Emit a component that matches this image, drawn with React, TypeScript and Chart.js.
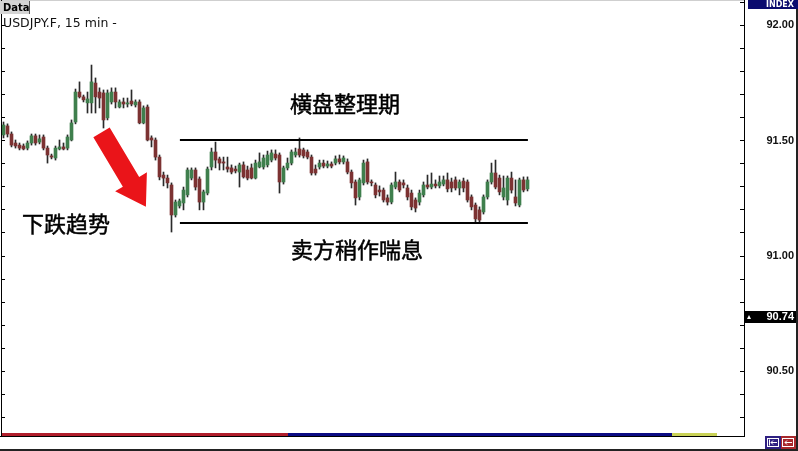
import React, { useRef, useEffect } from 'react';
import { Chart, registerables } from 'chart.js';

Chart.register(...registerables);

// USDJPY.F 15 min candles
const openPrices = [
  91.523, 91.562, 91.527, 91.488, 91.479, 91.475, 91.466, 91.488, 91.519, 91.492,
  91.514, 91.466, 91.432, 91.423, 91.462, 91.471, 91.466, 91.501, 91.579, 91.709,
  91.688, 91.662, 91.662, 91.748, 91.709, 91.705, 91.597, 91.666, 91.709, 91.644,
  91.666, 91.657, 91.670, 91.653, 91.666, 91.575, 91.644, 91.510, 91.501, 91.427,
  91.349, 91.336, 91.306, 91.176, 91.215, 91.228, 91.263, 91.336, 91.371, 91.332,
  91.232, 91.271, 91.384, 91.449, 91.419, 91.406, 91.384, 91.380, 91.375, 91.362,
  91.393, 91.371, 91.380, 91.336, 91.384, 91.384, 91.393, 91.414, 91.440, 91.436,
  91.319, 91.380, 91.401, 91.436, 91.462, 91.458, 91.449, 91.427, 91.375, 91.384,
  91.401, 91.388, 91.397, 91.401, 91.419, 91.406, 91.406, 91.362, 91.319, 91.254,
  91.315, 91.406, 91.319, 91.306, 91.284, 91.284, 91.250, 91.232, 91.297, 91.319,
  91.315, 91.293, 91.271, 91.241, 91.232, 91.263, 91.306, 91.297, 91.310, 91.302,
  91.310, 91.328, 91.319, 91.328, 91.293, 91.323, 91.319, 91.254, 91.219, 91.198,
  91.189, 91.254, 91.319, 91.358, 91.336, 91.254, 91.241, 91.336, 91.254, 91.219,
  91.328, 91.289,
];
const highPrices = [
  91.579, 91.571, 91.536, 91.501, 91.488, 91.484, 91.497, 91.527, 91.527, 91.523,
  91.523, 91.475, 91.440, 91.475, 91.501, 91.488, 91.523, 91.588, 91.722, 91.753,
  91.696, 91.709, 91.826, 91.770, 91.727, 91.718, 91.718, 91.727, 91.727, 91.675,
  91.683, 91.683, 91.718, 91.675, 91.675, 91.649, 91.653, 91.519, 91.510, 91.436,
  91.362, 91.349, 91.315, 91.241, 91.245, 91.297, 91.380, 91.380, 91.380, 91.341,
  91.284, 91.384, 91.466, 91.492, 91.427, 91.427, 91.427, 91.393, 91.388, 91.401,
  91.406, 91.388, 91.397, 91.414, 91.445, 91.436, 91.453, 91.458, 91.458, 91.445,
  91.388, 91.423, 91.458, 91.466, 91.510, 91.466, 91.458, 91.436, 91.393, 91.414,
  91.414, 91.410, 91.406, 91.432, 91.436, 91.432, 91.419, 91.371, 91.328, 91.336,
  91.414, 91.419, 91.328, 91.315, 91.302, 91.293, 91.263, 91.315, 91.362, 91.328,
  91.328, 91.306, 91.284, 91.250, 91.284, 91.319, 91.349, 91.358, 91.328, 91.345,
  91.345, 91.358, 91.336, 91.341, 91.328, 91.336, 91.328, 91.263, 91.228, 91.211,
  91.263, 91.328, 91.401, 91.414, 91.349, 91.345, 91.345, 91.362, 91.328, 91.336,
  91.341, 91.341,
];
const lowPrices = [
  91.510, 91.514, 91.471, 91.466, 91.458, 91.458, 91.458, 91.479, 91.479, 91.484,
  91.458, 91.401, 91.419, 91.414, 91.458, 91.458, 91.458, 91.497, 91.571, 91.683,
  91.666, 91.618, 91.618, 91.618, 91.640, 91.553, 91.588, 91.657, 91.640, 91.640,
  91.640, 91.644, 91.649, 91.644, 91.571, 91.571, 91.497, 91.471, 91.414, 91.328,
  91.302, 91.293, 91.102, 91.167, 91.206, 91.198, 91.254, 91.328, 91.284, 91.198,
  91.198, 91.263, 91.371, 91.380, 91.371, 91.371, 91.362, 91.354, 91.358, 91.297,
  91.336, 91.328, 91.332, 91.332, 91.380, 91.375, 91.384, 91.406, 91.414, 91.271,
  91.310, 91.371, 91.393, 91.427, 91.427, 91.423, 91.419, 91.349, 91.349, 91.375,
  91.380, 91.380, 91.380, 91.393, 91.397, 91.397, 91.354, 91.293, 91.219, 91.241,
  91.306, 91.310, 91.302, 91.250, 91.258, 91.232, 91.219, 91.224, 91.289, 91.276,
  91.293, 91.241, 91.198, 91.189, 91.219, 91.254, 91.289, 91.289, 91.293, 91.293,
  91.302, 91.276, 91.276, 91.284, 91.263, 91.276, 91.232, 91.198, 91.146, 91.146,
  91.180, 91.245, 91.310, 91.289, 91.263, 91.241, 91.219, 91.271, 91.215, 91.211,
  91.276, 91.280,
];
const closePrices = [
  91.566, 91.527, 91.479, 91.475, 91.466, 91.462, 91.488, 91.519, 91.488, 91.506,
  91.466, 91.436, 91.427, 91.466, 91.471, 91.462, 91.514, 91.575, 91.709, 91.688,
  91.675, 91.679, 91.753, 91.688, 91.683, 91.588, 91.705, 91.709, 91.666, 91.666,
  91.657, 91.662, 91.657, 91.666, 91.575, 91.640, 91.501, 91.501, 91.427, 91.341,
  91.336, 91.315, 91.176, 91.232, 91.237, 91.284, 91.371, 91.371, 91.297, 91.232,
  91.276, 91.375, 91.449, 91.414, 91.401, 91.401, 91.375, 91.362, 91.367, 91.393,
  91.341, 91.336, 91.336, 91.401, 91.406, 91.423, 91.436, 91.445, 91.423, 91.319,
  91.380, 91.401, 91.449, 91.449, 91.436, 91.432, 91.427, 91.358, 91.358, 91.401,
  91.388, 91.397, 91.388, 91.419, 91.406, 91.423, 91.362, 91.315, 91.250, 91.328,
  91.401, 91.319, 91.315, 91.263, 91.276, 91.241, 91.232, 91.306, 91.319, 91.284,
  91.306, 91.254, 91.211, 91.206, 91.271, 91.306, 91.297, 91.310, 91.302, 91.319,
  91.328, 91.289, 91.293, 91.293, 91.319, 91.293, 91.241, 91.211, 91.159, 91.154,
  91.254, 91.319, 91.358, 91.297, 91.276, 91.293, 91.336, 91.284, 91.228, 91.328,
  91.284, 91.328,
];

const priceLabels = [92.0, 91.5, 91.0, 90.5];
const minorTicks = [
  90.3, 90.4, 90.5, 90.6, 90.7, 90.8, 90.9, 91.0, 91.1, 91.2,
  91.3, 91.4, 91.5, 91.6, 91.7, 91.8, 91.9, 92.0, 92.1,
];
const lastPrice = 90.74;

// consolidation box (candle index, price)
const rangeTop = 91.5;
const rangeBottom = 91.142;
const rangeStart = 44.1;
const rangeEnd = 131.1;

const notes = [
  { text: '横盘整理期', x: 85.4, y: 91.657 },
  { text: '卖方稍作喘息', x: 88.4, y: 91.024 },
  { text: '下跌趋势', x: 15.6, y: 91.137 },
];
const arrowTail = { x: 24.5, y: 91.534 };
const arrowTip = { x: 35.6, y: 91.212 };

const UP = '#3f7f4d';
const DOWN = '#7c3232';

const chromePlugin = {
  id: 'chrome',
  afterDatasetsDraw(chart: any) {
    const { ctx, scales } = chart;
    const xs = scales.x;
    const ys = scales.y;
    ctx.save();

    // range lines
    ctx.strokeStyle = '#000';
    ctx.lineWidth = 2;
    [rangeTop, rangeBottom].forEach((p) => {
      const py = Math.round(ys.getPixelForValue(p));
      ctx.beginPath();
      ctx.moveTo(xs.getPixelForValue(rangeStart), py);
      ctx.lineTo(xs.getPixelForValue(rangeEnd), py);
      ctx.stroke();
    });

    // red arrow
    const tx = xs.getPixelForValue(arrowTail.x);
    const ty = ys.getPixelForValue(arrowTail.y);
    const hx = xs.getPixelForValue(arrowTip.x);
    const hy = ys.getPixelForValue(arrowTip.y);
    const len = Math.hypot(hx - tx, hy - ty);
    const ux = (hx - tx) / len;
    const uy = (hy - ty) / len;
    const px = uy;
    const py = -ux;
    const shaft = 9.5;
    const head = 18.5;
    const headLen = 29;
    const bx = hx - ux * headLen;
    const by = hy - uy * headLen;
    ctx.fillStyle = '#ea1419';
    ctx.beginPath();
    ctx.moveTo(tx - px * shaft, ty - py * shaft);
    ctx.lineTo(tx + px * shaft, ty + py * shaft);
    ctx.lineTo(bx + px * shaft, by + py * shaft);
    ctx.lineTo(bx + px * head, by + py * head);
    ctx.lineTo(hx, hy);
    ctx.lineTo(bx - px * head, by - py * head);
    ctx.lineTo(bx - px * shaft, by - py * shaft);
    ctx.closePath();
    ctx.fill();

    // annotations
    ctx.fillStyle = '#000';
    ctx.strokeStyle = '#000';
    ctx.lineWidth = 0.5;
    ctx.font = '22px "Noto Sans CJK SC"';
    ctx.textAlign = 'center';
    ctx.textBaseline = 'middle';
    notes.forEach((n) => {
      const nx = xs.getPixelForValue(n.x);
      const ny = ys.getPixelForValue(n.y);
      ctx.fillText(n.text, nx, ny);
      ctx.strokeText(n.text, nx, ny);
    });
    ctx.restore();
  },
  afterDraw(chart: any) {
    const { ctx } = chart;
    const ys = chart.scales.y;
    ctx.save();

    // plot frame
    ctx.fillStyle = '#cfcfcf';
    ctx.fillRect(0, 0, 745, 1);
    ctx.fillStyle = '#000';
    ctx.fillRect(1, 0, 1, 437);
    ctx.fillRect(744, 0, 1, 437);
    minorTicks.forEach((t) => {
      const y = Math.round(ys.getPixelForValue(t));
      ctx.fillRect(2, y, 3, 1);
      ctx.fillRect(740, y, 4, 1);
    });

    // bottom strip
    ctx.fillStyle = '#b01e2c';
    ctx.fillRect(2, 433, 286, 3);
    ctx.fillStyle = '#0c0c84';
    ctx.fillRect(288, 433, 384, 3);
    ctx.fillStyle = '#c9d256';
    ctx.fillRect(672, 433, 45, 3);
    ctx.fillStyle = '#000';
    ctx.fillRect(0, 436, 745, 1);

    // price axis
    ctx.font = 'bold 11px "Liberation Sans"';
    ctx.textAlign = 'right';
    ctx.textBaseline = 'middle';
    ctx.fillStyle = '#111';
    priceLabels.forEach((p) => {
      ctx.fillText(p.toFixed(2), 794, ys.getPixelForValue(p) + 0.5);
    });

    ctx.fillStyle = '#0b0b6e';
    ctx.fillRect(748, 0, 50, 9);
    ctx.fillStyle = '#fff';
    ctx.font = 'bold 8px "DejaVu Sans"';
    ctx.fillText('INDEX', 794, 5);

    const ly = Math.round(ys.getPixelForValue(lastPrice));
    ctx.fillStyle = '#000';
    ctx.fillRect(745, ly - 5, 52, 12);
    ctx.fillStyle = '#fff';
    ctx.font = 'bold 11px "Liberation Sans"';
    ctx.fillText(lastPrice.toFixed(2), 794, ly + 1);
    ctx.beginPath();
    ctx.moveTo(747, ly + 3);
    ctx.lineTo(751, ly + 3);
    ctx.lineTo(749, ly - 1);
    ctx.closePath();
    ctx.fill();

    // outer frame and scroll buttons
    ctx.fillStyle = '#222';
    ctx.fillRect(0, 449, 798, 2);
    ctx.fillRect(796, 9, 2, 442);
    ctx.fillStyle = '#2e2082';
    ctx.fillRect(765, 436, 16, 13);
    ctx.fillStyle = '#a8282c';
    ctx.fillRect(781, 436, 15, 13);
    ctx.strokeStyle = '#fff';
    ctx.lineWidth = 1;
    ctx.strokeRect(767.5, 438.5, 11, 8);
    ctx.strokeRect(782.5, 438.5, 11, 8);
    ctx.beginPath();
    ctx.moveTo(769.5, 439.5); ctx.lineTo(769.5, 445.5);
    ctx.moveTo(771, 442.5); ctx.lineTo(777, 442.5);
    ctx.moveTo(773, 440.5); ctx.lineTo(771, 442.5); ctx.lineTo(773, 444.5);
    ctx.moveTo(785, 442.5); ctx.lineTo(792, 442.5);
    ctx.moveTo(787, 440.5); ctx.lineTo(785, 442.5); ctx.lineTo(787, 444.5);
    ctx.stroke();

    // header
    ctx.fillStyle = '#d4d4d4';
    ctx.fillRect(0, 1, 30, 13);
    ctx.fillStyle = '#555';
    ctx.fillRect(29, 1, 1, 13);
    ctx.fillStyle = '#000';
    ctx.textAlign = 'left';
    ctx.textBaseline = 'alphabetic';
    ctx.font = 'bold 10px "DejaVu Sans"';
    ctx.fillText('Data', 3, 11);
    ctx.font = '12.5px "DejaVu Sans"';
    ctx.fillStyle = '#111';
    ctx.fillText('USDJPY.F, 15 min -', 3, 27);
    ctx.restore();
  },
};

const App: React.FC = () => {
  const chartRef = useRef<HTMLCanvasElement>(null);
  const chartInstance = useRef<Chart | null>(null);

  useEffect(() => {
    if (!chartRef.current) return;
    if (chartInstance.current) {
      chartInstance.current.destroy();
    }
    const ctx = chartRef.current.getContext('2d');
    if (!ctx) return;

    const colors = openPrices.map((o, i) => (closePrices[i] >= o ? UP : DOWN));
    const bodies = openPrices.map((o, i) => ({
      x: i,
      y: [Math.min(o, closePrices[i]), Math.max(o, closePrices[i])],
    }));
    const wicks = lowPrices.map((l, i) => ({ x: i, y: [l, highPrices[i]] }));

    chartInstance.current = new Chart(ctx, {
      type: 'bar',
      data: {
        datasets: [
          {
            label: 'body',
            data: bodies as any,
            backgroundColor: colors,
            barThickness: 3,
            minBarLength: 1,
            grouped: false,
            borderWidth: 0,
          },
          {
            label: 'wick',
            data: wicks as any,
            backgroundColor: '#2a2a2a',
            barThickness: 1,
            grouped: false,
            borderWidth: 0,
          },
        ],
      },
      plugins: [chromePlugin],
      options: {
        responsive: true,
        maintainAspectRatio: false,
        animation: false,
        devicePixelRatio: 1,
        layout: { padding: { left: 2, right: 54, top: 0, bottom: 19 } },
        plugins: {
          legend: { display: false },
          tooltip: { enabled: false },
        },
        scales: {
          x: { type: 'linear', display: false, offset: false, min: -0.375, max: 185.125 },
          y: { type: 'linear', display: false, min: 90.235, max: 92.108 },
        },
      },
    });

    return () => {
      if (chartInstance.current) {
        chartInstance.current.destroy();
        chartInstance.current = null;
      }
    };
  }, []);

  return (
    <div style={{ position: 'absolute', left: 0, top: 0, width: 798, height: 451, background: '#fff' }}>
      <canvas ref={chartRef} />
    </div>
  );
};

export default App;
